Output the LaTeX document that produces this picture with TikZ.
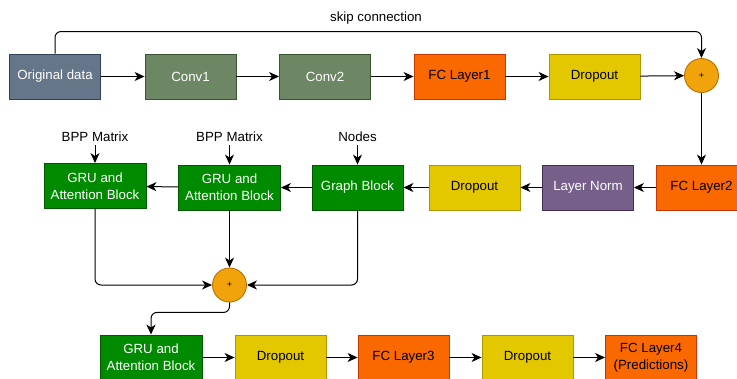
\documentclass[tikz,border=0pt]{standalone}
\usepackage{fontspec}
\setmainfont{Liberation Sans}
\usepackage{xcolor}
\usetikzlibrary{arrows.meta,positioning}

\definecolor{slatefill}{HTML}{647687}
\definecolor{slateline}{HTML}{314354}
\definecolor{olivefill}{HTML}{6D8764}
\definecolor{oliveline}{HTML}{3A5431}
\definecolor{fcfill}{HTML}{FA6800}
\definecolor{fcline}{HTML}{C73500}
\definecolor{dropfill}{HTML}{E3C800}
\definecolor{dropline}{HTML}{B09500}
\definecolor{gatefill}{HTML}{008A00}
\definecolor{gateline}{HTML}{005700}
\definecolor{normfill}{HTML}{76608A}
\definecolor{normline}{HTML}{432D57}
\definecolor{addfill}{HTML}{F0A30A}
\definecolor{addline}{HTML}{BD7000}

\newcommand{\blkfont}{\fontsize{13.3}{16.8}\selectfont}

\tikzset{
  blk/.style={draw, line width=0.9pt, minimum width=91pt, minimum height=45pt,
    inner sep=2pt, align=center, font=\blkfont},
  datablk/.style={blk, fill=slatefill, draw=slateline, text=white},
  convblk/.style={blk, fill=olivefill, draw=oliveline, text=white},
  fcblk/.style={blk, fill=fcfill, draw=fcline},
  dropblk/.style={blk, fill=dropfill, draw=dropline},
  gateblk/.style={blk, fill=gatefill, draw=gateline, text=white},
  normblk/.style={blk, fill=normfill, draw=normline, text=white},
  addnode/.style={circle, draw=addline, fill=addfill, line width=0.9pt,
    minimum size=34pt, inner sep=0pt, font=\fontsize{9}{10}\selectfont},
  flow/.style={-{Stealth[length=10pt,width=9pt,inset=3pt]}, line width=1pt},
}

\begin{document}
\begin{tikzpicture}[x=1pt,y=-1pt, font=\blkfont]
    \useasboundingbox (0,0) rectangle (737,378);

    % Encoder row
    \node[datablk] (orig)  at (55,76.5)    {Original data};
    \node[convblk] (conv1) at (190.5,76.5) {Conv1};
    \node[convblk] (conv2) at (325,76.5)   {Conv2};
    \node[fcblk]   (fc1)   at (459.5,76.5) {FC Layer1};
    \node[dropblk] (drop1) at (594.5,76.5) {Dropout};
    \node[addnode] (add1)  at (701.5,75.5) {+};

    % Middle row, read right to left
    \node[fcblk]   (fc2)   at (701.5,187.5) {FC Layer2};
    \node[normblk] (norm)  at (588,187.5)   {Layer Norm};
    \node[dropblk] (drop2) at (474.5,187.5) {Dropout};
    \node[gateblk] (graph) at (357.5,187.5) {Graph Block};
    \node[gateblk, minimum width=102pt] (gru2) at (229.5,187.5) {GRU and\\Attention Block};
    \node[gateblk, minimum width=102pt] (gru1) at (95,186)      {GRU and\\Attention Block};

    % Side inputs
    \node (bpp1) at (95,137)    {BPP Matrix};
    \node (bpp2) at (229.5,137) {BPP Matrix};
    \node (feat) at (357.5,137) {Nodes};

    \node[addnode] (add2) at (229.5,285) {+};

    % Output row
    \node[gateblk, minimum width=102pt] (gru3) at (151,357.5) {GRU and\\Attention Block};
    \node[dropblk] (drop3) at (280.5,357.5) {Dropout};
    \node[fcblk]   (fc3)   at (403.5,357.5) {FC Layer3};
    \node[dropblk] (drop4) at (527.5,357.5) {Dropout};
    \node[fcblk]   (fc4)   at (651,357.5)   {FC Layer4\\(Predictions)};

    % Straight connections
    \foreach \a/\b in {orig/conv1,conv1/conv2,conv2/fc1,fc1/drop1,drop1/add1,
                       add1/fc2,fc2/norm,norm/drop2,drop2/graph,graph/gru2,gru2/gru1,
                       bpp1/gru1,bpp2/gru2,feat/graph,gru2/add2,
                       gru3/drop3,drop3/fc3,fc3/drop4,drop4/fc4} {
      \draw[flow] (\a) -- (\b);
    }

    % Skip connection over the encoder
    \draw[flow, rounded corners=6pt] (orig.north) -- ++(0,-22) -| (add1.north);
    \node (skiplbl) at (376,18) {skip connection};

    % Merge into the second sum
    \draw[flow, rounded corners=6pt] (gru1.south) |- (add2.west);
    \draw[flow, rounded corners=6pt] (graph.south) |- (add2.east);
    \draw[flow, rounded corners=6pt] (add2.south) -- ++(0,10) -| (gru3.north);
  \end{tikzpicture}
\end{document}
